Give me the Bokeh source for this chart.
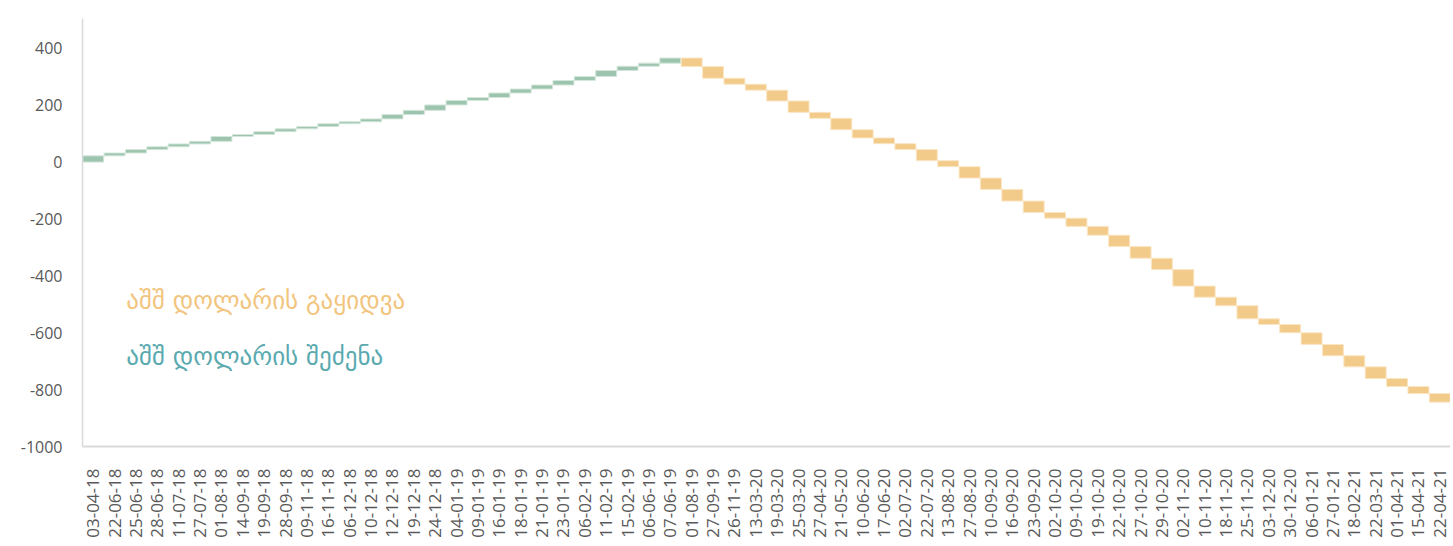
import numpy as np
from bokeh.plotting import figure
from bokeh.models import ColumnDataSource, Label, FactorRange, Range1d, FixedTicker
from bokeh.embed import file_html
from bokeh.resources import INLINE

dates = ["03-04-18", "22-06-18", "25-06-18", "28-06-18", "11-07-18", "27-07-18", "01-08-18",
         "14-09-18", "19-09-18", "28-09-18", "09-11-18", "16-11-18", "06-12-18", "10-12-18",
         "12-12-18", "19-12-18", "24-12-18", "04-01-19", "09-01-19", "16-01-19", "18-01-19",
         "21-01-19", "23-01-19", "06-02-19", "11-02-19", "15-02-19", "06-06-19", "07-06-19",
         "01-08-19", "27-09-19", "26-11-19", "13-03-20", "19-03-20", "25-03-20", "27-04-20",
         "21-05-20", "10-06-20", "17-06-20", "02-07-20", "22-07-20", "13-08-20", "27-08-20",
         "10-09-20", "16-09-20", "23-09-20", "02-10-20", "09-10-20", "19-10-20", "22-10-20",
         "27-10-20", "29-10-20", "02-11-20", "10-11-20", "18-11-20", "25-11-20", "03-12-20",
         "30-12-20", "06-01-21", "27-01-21", "18-02-21", "22-03-21", "01-04-21", "15-04-21",
         "22-04-21"]

# net operation per auction (positive = purchase of USD, negative = sale of USD), mln USD
changes = [22, 10, 12, 10, 10, 9, 17, 7, 10, 10, 8, 10, 7, 10, 15, 15, 19, 16, 10, 16, 14,
           14, 16, 14, 21, 15, 11, 18,
           -30, -41, -21, -21, -38, -40, -21, -40, -29, -20, -21, -39, -21, -40, -40, -41,
           -40, -20, -29, -31, -40, -41, -40, -58, -39, -30, -46, -20, -29, -41, -40, -39,
           -41, -28, -25, -30]

y_ticks = [-1000, -800, -600, -400, -200, 0, 200, 400]
legend_sell = "აშშ დოლარის გაყიდვა"
legend_buy = "აშშ დოლარის შეძენა"

GREEN = "#9DC4AE"
GREEN_LINE = "#D3E6DA"
ORANGE = "#F2CB8A"
ORANGE_LINE = "#FAE6C4"

ch = np.array(changes, dtype=float)
top_cum = np.cumsum(ch)
bottom_cum = top_cum - ch
src = ColumnDataSource(dict(
    date=dates,
    bottom=bottom_cum,
    top=top_cum,
    color=[GREEN if c > 0 else ORANGE for c in changes],
    line=[GREEN_LINE if c > 0 else ORANGE_LINE for c in changes],
))

p = figure(x_range=FactorRange(*dates), y_range=Range1d(-1000, 505),
           width=1450, height=540, output_backend="svg", toolbar_location=None,
           min_border_left=82, min_border_top=18, min_border_right=0, min_border_bottom=93)

p.vbar(x="date", bottom="bottom", top="top", width=0.98, fill_color="color",
       line_color="line", line_width=1, source=src)

p.xgrid.visible = False
p.ygrid.visible = False
p.outline_line_color = None
p.background_fill_color = "white"
p.border_fill_color = "white"

ya = p.yaxis[0]
ya.ticker = FixedTicker(ticks=y_ticks)
ya.major_label_overrides = {t: str(t) for t in y_ticks}
ya.major_tick_line_color = None
ya.minor_tick_line_color = None
ya.axis_line_color = "#D9D9D9"
ya.axis_line_width = 1.5
ya.major_label_text_font = "Open Sans"
ya.major_label_text_font_size = "16px"
ya.major_label_text_color = "#595959"
ya.major_label_standoff = 14

xa = p.xaxis[0]
xa.major_tick_line_color = None
xa.minor_tick_line_color = None
xa.axis_line_color = "#D9D9D9"
xa.axis_line_width = 2
xa.major_label_orientation = np.pi / 2
xa.major_label_text_font = "Open Sans"
xa.major_label_text_font_size = "17px"
xa.major_label_text_color = "#595959"
xa.major_label_standoff = 16

p.add_layout(Label(x=2.05, y=-487, text=legend_sell, text_color="#F2C57F",
                   text_font="DejaVu Sans", text_font_size="25px", text_baseline="middle"))
p.add_layout(Label(x=2.05, y=-683, text=legend_buy, text_color="#5AAAB0",
                   text_font="DejaVu Sans", text_font_size="25px", text_baseline="middle"))

open("out.html", "w").write(file_html(p, INLINE))
